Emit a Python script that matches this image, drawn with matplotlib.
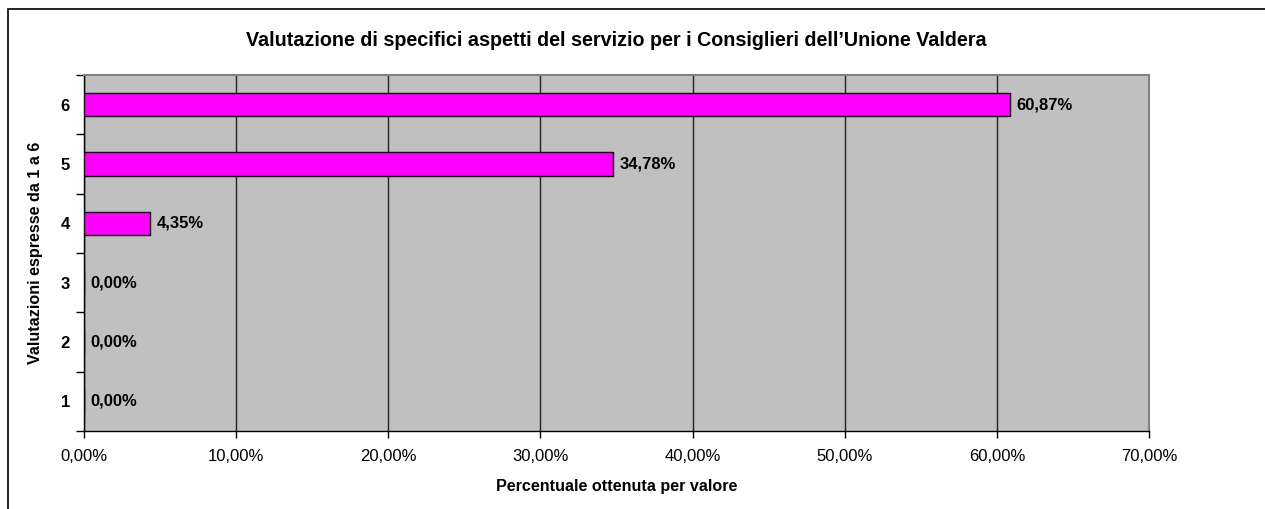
import matplotlib
matplotlib.use("Agg")
import matplotlib.pyplot as plt
from matplotlib.patches import Rectangle

categories = ["1", "2", "3", "4", "5", "6"]
values = [0.0, 0.0, 0.0, 4.35, 34.78, 60.87]
xticks = [0, 10, 20, 30, 40, 50, 60, 70]
xtick_labels = ["0,00%", "10,00%", "20,00%", "30,00%", "40,00%", "50,00%", "60,00%", "70,00%"]
title = "Valutazione di specifici aspetti del servizio per i Consiglieri dell\u2019Unione Valdera"
xlabel = "Percentuale ottenuta per valore"
ylabel = "Valutazioni espresse da 1 a 6"

plt.rcParams['font.family'] = ['Liberation Sans', 'DejaVu Sans']

W, H = 1265, 509
fig = plt.figure(figsize=(W / 100, H / 100), dpi=100)
fig.patch.set_facecolor("white")

# outer chart border
fig.add_artist(Rectangle((8 / W, -0.1), 1.2, 1 - 9 / H + 0.1, transform=fig.transFigure,
                         fill=False, edgecolor="black", linewidth=1.2))

l, r, t, b = 84 / W, 1149 / W, 1 - 75 / H, 1 - 431 / H
ax = fig.add_axes([l, b, r - l, t - b])
ax.set_facecolor("#C0C0C0")

ypos = list(range(len(categories)))
ax.barh(ypos, values, height=0.39, color="#FF00FF", edgecolor="black", linewidth=1.0, zorder=3)

ax.set_xlim(0, 70)
ax.set_ylim(-0.5, len(categories) - 0.5)
ax.set_xticks(xticks)
ax.set_xticklabels(xtick_labels, fontsize=12)
ax.set_yticks(ypos)
ax.set_yticklabels(categories, fontsize=12, fontweight="bold")
ax.tick_params(axis="y", length=0, pad=10)
ax.set_yticks([i - 0.5 for i in range(len(categories) + 1)], minor=True)
ax.tick_params(axis="y", which="minor", length=6, width=1, color="black", direction="out")
ax.tick_params(axis="x", length=5, width=1, direction="out", pad=8)

ax.grid(axis="x", color="#222222", linewidth=1.0, zorder=1)
ax.set_axisbelow(True)

for s in ["top", "right"]:
    ax.spines[s].set_color("#808080")
    ax.spines[s].set_linewidth(1.5)
for s in ["left", "bottom"]:
    ax.spines[s].set_color("black")
    ax.spines[s].set_linewidth(1.0)

for y, v in zip(ypos, values):
    ax.annotate(f"{v:.2f}%".replace(".", ","), (v, y), xytext=(4.5, 0), textcoords="offset points",
                va="center", ha="left", fontsize=12, fontweight="bold", zorder=4)

fig.text((l + r) / 2, 1 - 40 / H, title, ha="center", va="center", fontsize=14.2, fontweight="bold")
fig.text((l + r) / 2, 1 - 487 / H, xlabel, ha="center", va="center", fontsize=11.6, fontweight="bold")
fig.text(36 / W, (t + b) / 2, ylabel, ha="center", va="center", rotation=90, fontsize=11.6, fontweight="bold")

fig.savefig("out.png", dpi=100, facecolor="white")
